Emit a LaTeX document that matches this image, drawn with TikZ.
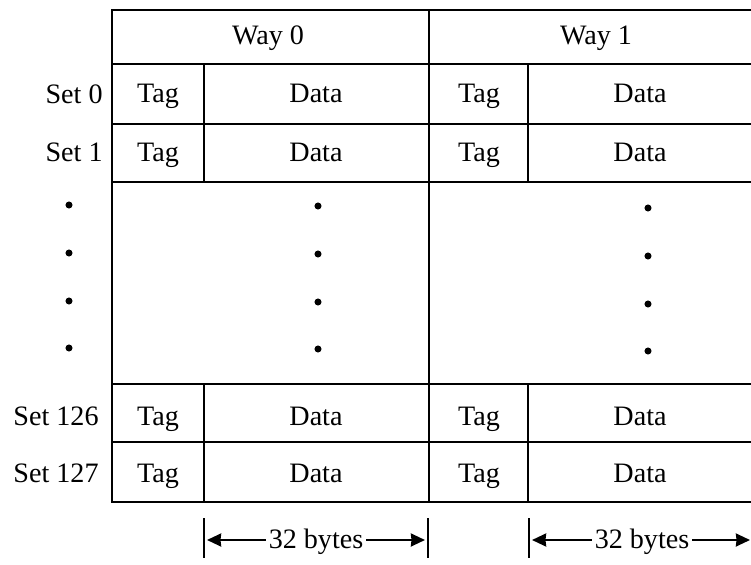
\documentclass[tikz,border=0pt]{standalone}
\usepackage{fontspec}
\setmainfont{Liberation Serif}
\usetikzlibrary{arrows.meta}
\begin{document}
\begin{tikzpicture}[x=0.03cm,y=-0.03cm,
  grid/.style={line width=1.7pt,line cap=rect},
  lbl/.style={font=\fontsize{24}{28}\selectfont,inner sep=1pt,anchor=base},
  dot/.style={circle,fill=black,inner sep=0pt,minimum size=6pt},
  bar/.style={line width=1.4pt},
  span/.style={line width=2pt,{Stealth[length=12pt,width=11pt,inset=0.5pt]}-{Stealth[length=12pt,width=11pt,inset=0.5pt]}}]
\useasboundingbox (0,0) rectangle (751,565);
\clip (0,0) rectangle (751,565);

% outer frame and row rules
\draw[grid] (751,10) -- (112,10) -- (112,502) -- (751,502);
\foreach \y in {64,124,182,384,442}
  \draw[grid] (112,\y) -- (751,\y);
% way divider
\draw[grid] (429,10) -- (429,502);
% tag / data dividers
\draw[grid] (204,64) -- (204,182);
\draw[grid] (528,64) -- (528,182);
\draw[grid] (204,384) -- (204,502);
\draw[grid] (528,384) -- (528,502);

% header
\node[lbl] (w0) at (268,45) {Way 0};
\node[lbl] (w1) at (596,45) {Way 1};

% set labels
\node[lbl,anchor=base east] (s0) at (104,104) {Set 0};
\node[lbl,anchor=base east] (s1) at (104,162) {Set 1};
\node[lbl,anchor=base east] (s126) at (100,425) {Set 126};
\node[lbl,anchor=base east] (s127) at (100,482) {Set 127};

% cell texts
\foreach \n/\y in {a/103,b/162,c/425,d/482}{
  \node[lbl] (t0\n) at (158,\y) {Tag};
  \node[lbl] (d0\n) at (316,\y) {Data};
  \node[lbl] (t1\n) at (479,\y) {Tag};
  \node[lbl] (d1\n) at (640,\y) {Data};
}

% ellipsis dots
\foreach \i/\y in {1/205,2/253,3/301,4/348}{
  \node[dot] (l\i) at (69,\y) {};
  \node[dot] (m\i) at (318,\y+1) {};
  \node[dot] (r\i) at (648,\y+3) {};
}

% line width markers
\coordinate (b0t) at (204,518); \coordinate (b0b) at (204,558);
\coordinate (b1t) at (428,518); \coordinate (b1b) at (428,558);
\coordinate (b2t) at (529,518); \coordinate (b2b) at (529,558);
\draw[bar] (b0t) -- (b0b);
\draw[bar] (b1t) -- (b1b);
\draw[bar] (b2t) -- (b2b);
\coordinate (a0l) at (207,540); \coordinate (a0r) at (425,540);
\coordinate (a1l) at (532,540); \coordinate (a1r) at (750,540);
\draw[span] (a0l) -- (a0r);
\draw[span] (a1l) -- (a1r);
\node[lbl,fill=white,inner xsep=2pt] (by0) at (316,548) {32 bytes};
\node[lbl,fill=white,inner xsep=2pt] (by1) at (642,548) {32 bytes};
\end{tikzpicture}
\end{document}
